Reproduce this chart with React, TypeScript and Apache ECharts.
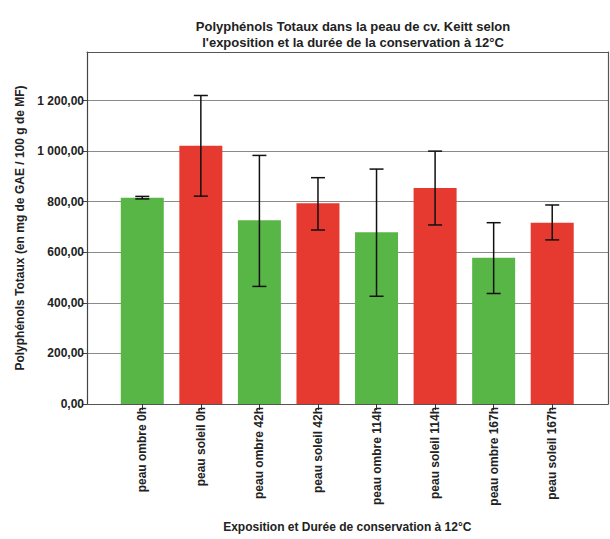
import React, { useEffect, useRef } from "react";
import * as echarts from "echarts";

const categories = [
  "peau ombre 0h",
  "peau soleil 0h",
  "peau ombre 42h",
  "peau soleil 42h",
  "peau ombre 114h",
  "peau soleil 114h",
  "peau ombre 167h",
  "peau soleil 167h",
];
const means = [816, 1021, 727, 794, 679, 854, 578, 717];
const errLow = [811, 822, 465, 688, 426, 708, 437, 649];
const errHigh = [821, 1220, 983, 895, 929, 1000, 717, 787];
const yTicks = [0, 200, 400, 600, 800, 1000, 1200];

const GREEN = "#58b647";
const RED = "#e6392f";
const FONT = "'Liberation Sans', Arial, sans-serif";

function frNum(v: number): string {
  const s = v.toFixed(2).replace(".", ",");
  const [ip, dp] = s.split(",");
  const withSep = ip.replace(/\B(?=(\d{3})+(?!\d))/g, " ");
  return withSep + "," + dp;
}

export default function App() {
  const ref = useRef<HTMLDivElement>(null);
  useEffect(() => {
    if (!ref.current) return;
    const chart = echarts.init(ref.current, undefined, { renderer: "svg" });
    const YMAX = 1392;
    const frameLine = { show: true, onZero: false, lineStyle: { color: "#555", width: 1.2 } };
    const option: any = {
      animation: false,
      backgroundColor: "#ffffff",
      textStyle: { fontFamily: FONT },
      title: {
        text: "Polyphénols Totaux dans la peau de cv. Keitt selon\nl'exposition et la durée de la conservation à 12°C",
        left: 348,
        top: 13,
        textAlign: "center",
        textStyle: {
          fontFamily: FONT,
          fontSize: 13,
          fontWeight: "bold",
          color: "#222",
          lineHeight: 16,
        },
      },
      grid: [
        { left: 87, right: 2, top: 52, bottom: 135 },
        { left: 113, width: 468.5, top: 52, bottom: 135 },
      ],
      xAxis: [
        {
          type: "value", gridIndex: 0, min: 0, max: 1, position: "bottom",
          axisLine: frameLine, axisTick: { show: false }, axisLabel: { show: false }, splitLine: { show: false },
        },
        {
          type: "category",
          gridIndex: 1,
          data: categories,
          axisLine: { show: false },
          axisTick: { show: true, length: 6, alignWithLabel: true, lineStyle: { color: "#333" } },
          axisLabel: {
            rotate: 90,
            margin: 3,
            fontFamily: FONT,
            fontSize: 12,
            fontWeight: "bold",
            color: "#222",
          },
          name: "Exposition et Durée de conservation à 12°C",
          nameLocation: "middle",
          nameGap: 117,
          nameTextStyle: { fontFamily: FONT, fontSize: 12, fontWeight: "bold", color: "#222" },
        },
        {
          type: "value", gridIndex: 0, min: 0, max: 1, position: "top",
          axisLine: frameLine, axisTick: { show: false }, axisLabel: { show: false }, splitLine: { show: false },
        },
      ],
      yAxis: [
        {
          type: "value",
          gridIndex: 0,
          min: 0,
          max: YMAX,
          interval: 200,
          axisLine: { show: true, onZero: false, lineStyle: { color: "#444", width: 1.2 } },
          axisTick: { show: true, length: 5, customValues: yTicks, lineStyle: { color: "#444" } },
          axisLabel: {
            customValues: yTicks,
            margin: 3,
            fontFamily: FONT,
            fontSize: 12,
            fontWeight: "bold",
            color: "#222",
            formatter: (v: number) => frNum(v),
          },
          splitLine: { show: true, lineStyle: { color: "#8a8a8a", width: 1 } },
          name: "Polyphénols Totaux (en mg de GAE / 100 g de MF)",
          nameLocation: "middle",
          nameRotate: 90,
          nameGap: 60,
          nameTextStyle: { fontFamily: FONT, fontSize: 12, fontWeight: "bold", color: "#222" },
        },
        { type: "value", gridIndex: 1, min: 0, max: YMAX, interval: 200, show: false },
        {
          type: "value", gridIndex: 0, min: 0, max: YMAX, interval: 200, position: "right",
          axisLine: frameLine, axisTick: { show: false }, axisLabel: { show: false }, splitLine: { show: false },
        },
      ],
      series: [
        {
          type: "bar",
          xAxisIndex: 1,
          yAxisIndex: 1,
          barWidth: 43,
          data: means.map((v, i) => ({
            value: v,
            itemStyle: { color: i % 2 === 0 ? GREEN : RED },
          })),
        },
        {
          type: "custom",
          xAxisIndex: 1,
          yAxisIndex: 1,
          z: 10,
          data: categories.map((c, i) => [i, errLow[i], errHigh[i]]),
          renderItem: (params: any, api: any) => {
            const x = api.value(0);
            const lo = api.coord([x, api.value(1)]);
            const hi = api.coord([x, api.value(2)]);
            const hw = 7;
            const st = { stroke: "#111", lineWidth: 1.5 };
            return {
              type: "group",
              children: [
                { type: "line", shape: { x1: hi[0], y1: hi[1], x2: lo[0], y2: lo[1] }, style: st },
                { type: "line", shape: { x1: hi[0] - hw, y1: hi[1], x2: hi[0] + hw, y2: hi[1] }, style: st },
                { type: "line", shape: { x1: lo[0] - hw, y1: lo[1], x2: lo[0] + hw, y2: lo[1] }, style: st },
              ],
            };
          },
        },
      ],
    };
    chart.setOption(option);
    return () => chart.dispose();
  }, []);
  return (
    <div
      ref={ref}
      style={{ position: "absolute", left: 0, top: 0, width: 610, height: 539 }}
    />
  );
}
